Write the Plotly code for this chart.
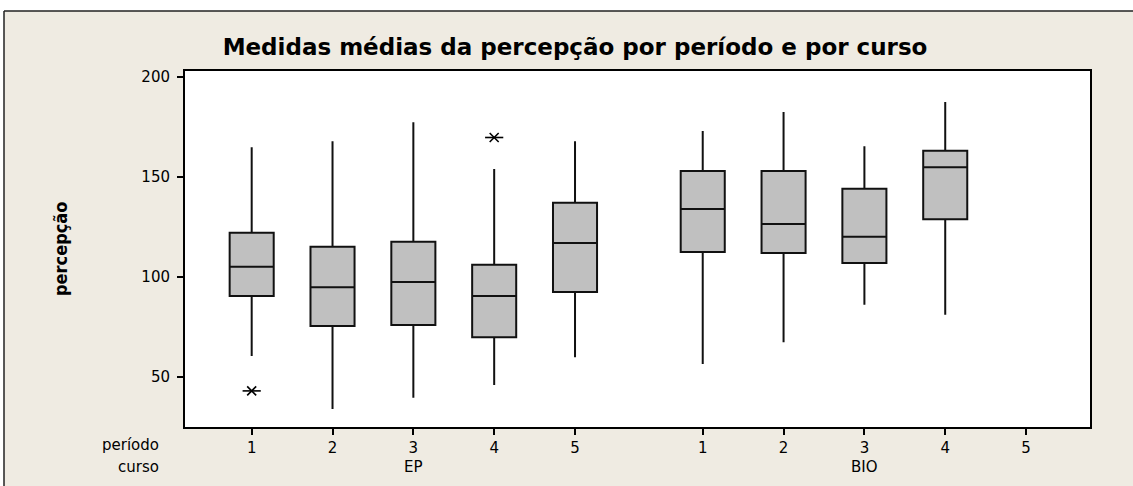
import plotly.graph_objects as go

# ---- data ----
cursos = ["EP", "EP", "EP", "EP", "EP", "BIO", "BIO", "BIO", "BIO"]
periodos = [1, 2, 3, 4, 5, 1, 2, 3, 4]
lower_whisker = [60.4, 33.9, 39.5, 45.9, 59.7, 56.4, 67.2, 86.0, 81.0]
q1_vals = [90.4, 75.4, 75.9, 69.7, 92.4, 112.4, 111.9, 106.9, 128.7]
median_vals = [105.0, 94.7, 97.4, 90.4, 116.9, 133.9, 126.4, 120.0, 154.7]
q3_vals = [122.0, 115.0, 117.5, 106.0, 137.0, 152.9, 152.9, 144.0, 163.0]
upper_whisker = [164.7, 167.7, 177.2, 153.9, 167.7, 172.8, 182.4, 165.2, 187.4]

outlier_curso = ["EP", "EP"]
outlier_periodo = [1, 4]
outlier_vals = [42.9, 169.6]

period_labels = ["1", "2", "3", "4", "5"]
curso_order = ["EP", "BIO"]
y_ticks = [50, 100, 150, 200]

title_text = "Medidas médias da percepção por período e por curso"
y_title = "percepção"

# ---- layout helpers ----
curso_offset = {"EP": 0.0, "BIO": 5.58}


def pos(c, p):
    return p + curso_offset[c]


box_x = [pos(c, p) for c, p in zip(cursos, periodos)]
out_x = [pos(c, p) for c, p in zip(outlier_curso, outlier_periodo)]
tick_vals = [pos(c, int(p)) for c in curso_order for p in period_labels]
tick_text = [p for c in curso_order for p in period_labels]

W, H = 1133, 486
L, R, T, B = 185, 43, 71, 59
pw, ph = W - L - R, H - T - B
BG = "#EFEBE2"


def px_to_paper_x(px):
    return (px - L) / pw


def py_to_paper_y(py):
    return (H - B - py) / ph


fig = go.Figure()

fig.add_trace(go.Box(
    x=box_x,
    q1=q1_vals, median=median_vals, q3=q3_vals,
    lowerfence=lower_whisker, upperfence=upper_whisker,
    width=0.545, whiskerwidth=0,
    fillcolor="#C0C0C0",
    line=dict(color="#111111", width=2),
    boxpoints=False,
    showlegend=False, hoverinfo="skip",
))

# asterisk outliers (X + horizontal bar)
fig.add_trace(go.Scatter(
    x=out_x, y=outlier_vals, mode="markers",
    marker=dict(symbol="x-thin-open", size=9, color="black",
                line=dict(color="black", width=1.6)),
    showlegend=False, hoverinfo="skip",
))
fig.add_trace(go.Scatter(
    x=out_x, y=outlier_vals, mode="markers",
    marker=dict(symbol="line-ew-open", size=13, color="black",
                line=dict(color="black", width=1.6)),
    showlegend=False, hoverinfo="skip",
))

tick_font = dict(family="DejaVu Sans, Verdana, sans-serif", size=15, color="black")

fig.update_xaxes(
    range=[0.175, 11.371],
    tickmode="array", tickvals=tick_vals, ticktext=tick_text,
    ticks="outside", ticklen=6, tickwidth=1.5, tickcolor="black",
    showgrid=False, zeroline=False,
    showline=True, linecolor="black", linewidth=2, mirror=True,
    tickfont=tick_font,
)
fig.update_yaxes(
    range=[24.85, 202.85],
    tickmode="array", tickvals=y_ticks,
    ticks="outside", ticklen=6, tickwidth=1.5, tickcolor="black",
    showgrid=False, zeroline=False,
    showline=True, linecolor="black", linewidth=2, mirror=True,
    tickfont=tick_font, ticklabelstandoff=4,
)

annotations = [
    dict(text=y_title, xref="paper", yref="paper",
         x=px_to_paper_x(60), y=py_to_paper_y(249), textangle=-90,
         xanchor="center", yanchor="middle", showarrow=False,
         font=dict(family="Liberation Sans Narrow, DejaVu Sans Condensed, Arial Narrow, sans-serif",
                   size=18, color="black", weight="bold")),
    dict(text="período", xref="paper", yref="paper",
         x=px_to_paper_x(161), y=py_to_paper_y(445),
         xanchor="right", yanchor="middle", showarrow=False, font=tick_font),
    dict(text="curso", xref="paper", yref="paper",
         x=px_to_paper_x(161), y=py_to_paper_y(467),
         xanchor="right", yanchor="middle", showarrow=False, font=tick_font),
]
for c in curso_order:
    annotations.append(dict(text=c, xref="x", yref="paper",
                            x=pos(c, 3), y=py_to_paper_y(467),
                            xanchor="center", yanchor="middle", showarrow=False,
                            font=tick_font))

# white strips outside the beige frame (top and left) and the frame lines
shapes = [
    dict(type="rect", xref="paper", yref="paper", layer="below",
         x0=px_to_paper_x(-5), x1=px_to_paper_x(W + 5),
         y0=py_to_paper_y(11), y1=py_to_paper_y(-5),
         fillcolor="white", line=dict(width=0)),
    dict(type="rect", xref="paper", yref="paper", layer="below",
         x0=px_to_paper_x(-5), x1=px_to_paper_x(4),
         y0=py_to_paper_y(H + 5), y1=py_to_paper_y(-5),
         fillcolor="white", line=dict(width=0)),
    dict(type="line", xref="paper", yref="paper", layer="below",
         x0=px_to_paper_x(4), x1=px_to_paper_x(W + 5),
         y0=py_to_paper_y(11), y1=py_to_paper_y(11),
         line=dict(color="#222222", width=1.5)),
    dict(type="line", xref="paper", yref="paper", layer="below",
         x0=px_to_paper_x(4), x1=px_to_paper_x(4),
         y0=py_to_paper_y(11), y1=py_to_paper_y(H + 5),
         line=dict(color="#222222", width=1.5)),
]

fig.update_layout(
    width=W, height=H,
    margin=dict(l=L, r=R, t=T, b=B, pad=0),
    paper_bgcolor=BG, plot_bgcolor="white",
    title=dict(text=title_text, xref="container", yref="container",
               x=575 / W, y=1 - 47 / H, xanchor="center", yanchor="middle",
               font=dict(family="DejaVu Sans, Verdana, sans-serif", size=23,
                         color="black", weight="bold")),
    annotations=annotations, shapes=shapes,
    hovermode=False,
)

fig.write_html("out.html", config={"displayModeBar": False},
               post_script="document.body.style.margin='0';document.body.style.padding='0';")
